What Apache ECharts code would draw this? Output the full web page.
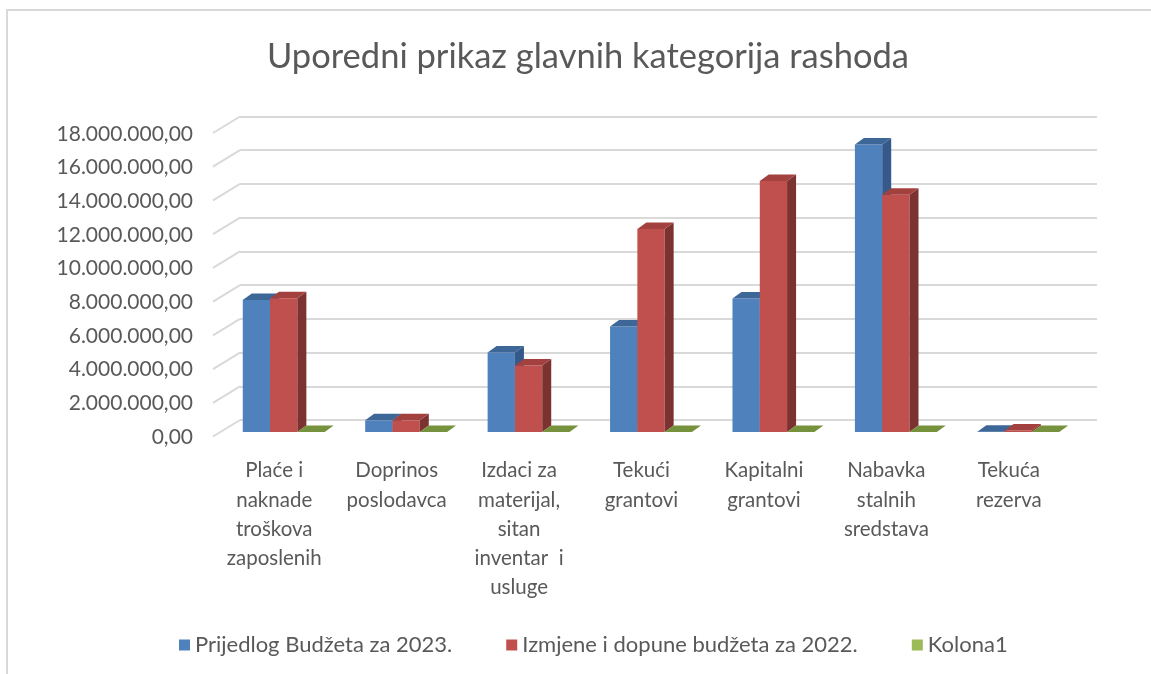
<!DOCTYPE html>
<html lang="bs">
<head>
  <meta charset="UTF-8">
  <title>Uporedni prikaz glavnih kategorija rashoda</title>
  <script src="https://cdn.jsdelivr.net/npm/echarts@6/dist/echarts.min.js"></script>
</head>
<body style="margin:0">
<div id="chart" style="width: 1151px; height: 674px"></div>
<script>
  const categories = [
    'Plaće i\nnaknade\ntroškova\nzaposlenih',
    'Doprinos\nposlodavca',
    'Izdaci za\nmaterijal,\nsitan\ninventar  i\nusluge',
    'Tekući\ngrantovi',
    'Kapitalni\ngrantovi',
    'Nabavka\nstalnih\nsredstava',
    'Tekuća\nrezerva'
  ];
  const prijedlog2023 = [7820000, 690000, 4710000, 6250000, 7910000, 17030000, 20000];
  const izmjene2022 = [7920000, 690000, 3940000, 12020000, 14860000, 14050000, 90000];
  const kolona1 = [0, 0, 0, 0, 0, 0, 0];
  const yTicks = [0, 2000000, 4000000, 6000000, 8000000, 10000000, 12000000, 14000000, 16000000, 18000000];

  const font = 'Lato, "Open Sans", sans-serif';
  const textColor = '#595959';

  // fake 3d: front / top / side colours per series
  const palette = [
    {name: 'Prijedlog Budžeta za 2023.', data: prijedlog2023, front: '#4F81BD', top: '#3D6797', side: '#35598A'},
    {name: 'Izmjene i dopune budžeta za 2022.', data: izmjene2022, front: '#C0504D', top: '#A2413E', side: '#7C3230'},
    {name: 'Kolona1', data: kolona1, front: '#9BBB59', top: '#76923C', side: '#5F7530'}
  ];
  const depth = [9, -6.5];

  function fmt(v) {
    const s = Math.round(v).toString().replace(/\B(?=(\d{3})+(?!\d))/g, '.');
    return s + ',00';
  }

  function boxRenderer(k) {
    const p = palette[k];
    return function (params, api) {
      const i = api.value(0);
      const top = api.coord([i, api.value(1)]);
      const base = api.coord([i, 0]);
      const w = api.size([1, 0])[0] * 0.223;
      const x0 = top[0] + 0.5 - 1.5 * w + k * w;
      const y1 = top[1], y0 = base[1];
      const dx = depth[0], dy = depth[1];
      const children = [];
      if (y0 - y1 > 0.3) {
        children.push({type: 'rect', shape: {x: x0, y: y1, width: w, height: y0 - y1}, style: {fill: p.front}});
        children.push({type: 'polygon', shape: {points: [[x0 + w, y1], [x0 + w + dx, y1 + dy], [x0 + w + dx, y0 + dy], [x0 + w, y0]]}, style: {fill: p.side}});
      }
      children.push({type: 'polygon', shape: {points: [[x0, y1], [x0 + w, y1], [x0 + w + dx, y1 + dy], [x0 + dx, y1 + dy]]}, style: {fill: p.top}});
      return {type: 'group', children: children};
    };
  }

  const yBase = {type: 'value', min: 0, max: 18000000, interval: 2000000};

  const chart = echarts.init(document.getElementById('chart'));
  const option = {
    backgroundColor: '#fff',
    animation: false,
    title: {
      text: 'Uporedni prikaz glavnih kategorija rashoda',
      left: 583,
      textAlign: 'center',
      top: 34,
      textStyle: {fontFamily: font, fontSize: 34.5, fontWeight: 'normal', color: textColor}
    },
    graphic: [{
      type: 'rect',
      shape: {x: 7, y: 10, width: 1300, height: 800},
      style: {fill: 'none', stroke: '#D9D9D9', lineWidth: 2},
      silent: true
    }],
    legend: {
      left: 174,
      top: 629,
      icon: 'rect',
      itemWidth: 11,
      itemHeight: 11,
      itemGap: 54,
      textStyle: {fontFamily: font, fontSize: 22, color: textColor},
      data: palette.map(p => p.name)
    },
    grid: [
      // back wall (gridlines)
      {left: 240, right: 54, top: 116.5, bottom: 254},
      // front plane (axis labels)
      {left: 213, right: 81, top: 134, bottom: 237},
      // bars
      {left: 222, right: 72, top: 128, bottom: 242}
    ],
    xAxis: [
      {gridIndex: 0, type: 'category', data: categories, show: false},
      {
        gridIndex: 1, type: 'category', data: categories,
        axisLine: {show: false}, axisTick: {show: false},
        axisLabel: {
          margin: 19, interval: 0, fontFamily: font, fontSize: 20.5, lineHeight: 29.3,
          color: textColor, verticalAlign: 'top'
        }
      },
      {gridIndex: 2, type: 'category', data: categories, show: false}
    ],
    yAxis: [
      Object.assign({gridIndex: 0, axisLabel: {show: false}, axisLine: {show: false}, axisTick: {show: false},
        splitLine: {show: true, lineStyle: {color: '#D9D9D9', width: 2}}}, yBase),
      Object.assign({gridIndex: 1, axisLine: {show: false}, axisTick: {show: false}, splitLine: {show: false},
        axisLabel: {margin: 20, fontFamily: font, fontSize: 21, color: textColor, formatter: fmt}}, yBase),
      Object.assign({gridIndex: 2, show: false, splitLine: {show: false}}, yBase)
    ],
    series: [
      {
        type: 'custom',
        silent: true,
        xAxisIndex: 0,
        yAxisIndex: 0,
        data: yTicks.map(v => [0, v]),
        encode: {x: 0, y: 1},
        renderItem: function (params, api) {
          const y = api.coord([0, api.value(1)])[1];
          const x = params.coordSys.x;
          return {type: 'line', shape: {x1: x, y1: y, x2: x - 27, y2: y + 16.5}, style: {stroke: '#D9D9D9', lineWidth: 2}};
        }
      }
    ].concat(palette.map((p, k) => ({
      type: 'custom',
      name: p.name,
      xAxisIndex: 2,
      yAxisIndex: 2,
      itemStyle: {color: p.front},
      data: p.data.map((v, i) => [i, v]),
      encode: {x: 0, y: 1},
      renderItem: boxRenderer(k)
    })))
  };
  chart.setOption(option);
</script>
</body>
</html>
